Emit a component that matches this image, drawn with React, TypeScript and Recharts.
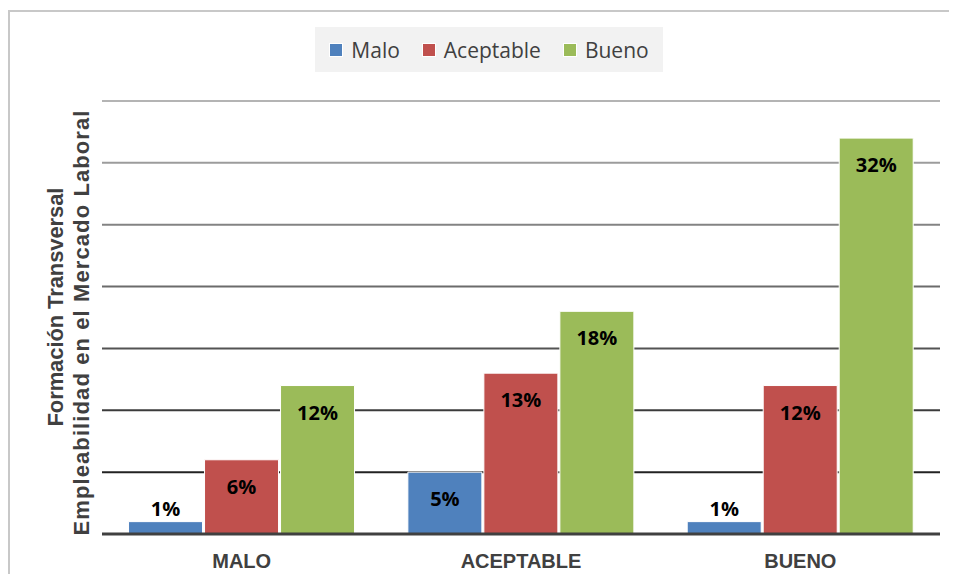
import { BarChart, Bar, XAxis, YAxis, CartesianGrid, LabelList } from 'recharts'

const CATEGORIES = ['MALO', 'ACEPTABLE', 'BUENO']
const SERIES_NAMES = ['Malo', 'Aceptable', 'Bueno']
const MALO_VALUES = [1, 5, 1]
const ACEPTABLE_VALUES = [6, 13, 12]
const BUENO_VALUES = [12, 18, 32]
const Y_TICKS = [0, 5, 10, 15, 20, 25, 30, 35]
const Y_LABEL_LINES = ['Formación Transversal', 'Empleabilidad en el Mercado Laboral']

const COLORS = ['#4f81bd', '#c0504d', '#9bbb59']
const TEXT = '#404040'
const DATA_FONT = '"Open Sans", sans-serif'
const AXIS_FONT = '"Liberation Sans", Arial, sans-serif'

const data = CATEGORIES.map((name, i) => ({
  name,
  Malo: MALO_VALUES[i],
  Aceptable: ACEPTABLE_VALUES[i],
  Bueno: BUENO_VALUES[i],
}))

// gridlines fade from black at the bottom to light gray at the top
function gridColor(y: number, top: number, bottom: number) {
  const t = (bottom - y) / (bottom - top)
  const v = Math.round(10 + t * 170)
  return `rgb(${v},${v},${v})`
}

// eslint-disable-next-line @typescript-eslint/no-explicit-any
function GridLine(props: any) {
  const { x1, x2, y1, index } = props
  if (y1 > 530) return <g key={`gl-${index}`} />
  return (
    <line
      key={`gl-${index}`}
      x1={x1}
      x2={x2}
      y1={y1}
      y2={y1}
      stroke={gridColor(y1, 101, 534)}
      strokeWidth={2}
    />
  )
}

// eslint-disable-next-line @typescript-eslint/no-explicit-any
function BarValue(props: any) {
  const { x, y, width, height, value } = props
  const small = height < 30
  return (
    <text
      x={x + width / 2}
      y={small ? y - 6 : y + 34}
      textAnchor="middle"
      fill="#000"
      style={{ fontFamily: DATA_FONT, fontWeight: 700, fontSize: 20 }}
    >
      {value}%
    </text>
  )
}

export default function App() {
  return (
    <div style={{ position: 'relative', width: 957, height: 582, margin: -8, overflow: 'hidden', background: '#fff' }}>
      {/* outer chart frame */}
      <div
        style={{
          position: 'absolute',
          left: 8,
          top: 10,
          width: 960,
          height: 600,
          borderTop: '2px solid #c8c8c8',
          borderLeft: '2px solid #c8c8c8',
        }}
      />

      {/* Legend */}
      <div
        style={{
          position: 'absolute',
          left: 315,
          top: 27,
          width: 348,
          height: 45,
          background: '#f2f2f2',
          display: 'flex',
          alignItems: 'center',
          justifyContent: 'center',
          gap: 22,
          fontFamily: DATA_FONT,
          fontSize: 21,
          color: TEXT,
        }}
      >
        {SERIES_NAMES.map((s, i) => (
          <div key={s} style={{ display: 'flex', alignItems: 'center', gap: 8 }}>
            <div style={{ width: 12, height: 12, background: COLORS[i], border: '1px solid #fff' }} />
            <span>{s}</span>
          </div>
        ))}
      </div>

      <div style={{ position: 'absolute', left: 0, top: 0 }}>
        <BarChart
          width={957}
          height={582}
          data={data}
          margin={{ top: 101, right: 17, bottom: 18, left: 102 }}
          barCategoryGap="9.5%"
          barGap={2}
        >
          <CartesianGrid vertical={false} horizontal={GridLine} />
          <YAxis hide domain={[0, 35]} ticks={Y_TICKS} />
          <XAxis
            dataKey="name"
            height={30}
            axisLine={{ stroke: TEXT, strokeWidth: 3 }}
            tickLine={false}
            tickMargin={14}
            tick={{ fill: TEXT, fontSize: 20, fontWeight: 700, fontFamily: AXIS_FONT }}
          />
          {SERIES_NAMES.map((s, i) => (
            <Bar key={s} dataKey={s} fill={COLORS[i]} stroke="#fff" strokeWidth={1} isAnimationActive={false}>
              <LabelList dataKey={s} content={BarValue} />
            </Bar>
          ))}
        </BarChart>
      </div>

      {/* Y axis title, two lines */}
      <svg width={957} height={582} style={{ position: 'absolute', left: 0, top: 0, pointerEvents: 'none' }}>
        <text
          transform="translate(63,307) rotate(-90)"
          textAnchor="middle"
          fill={TEXT}
          textLength={239}
          lengthAdjust="spacing"
          style={{ fontFamily: AXIS_FONT, fontWeight: 700, fontSize: 22 }}
        >
          {Y_LABEL_LINES[0]}
        </text>
        <text
          transform="translate(89,323) rotate(-90)"
          textAnchor="middle"
          fill={TEXT}
          textLength={425}
          lengthAdjust="spacing"
          style={{ fontFamily: AXIS_FONT, fontWeight: 700, fontSize: 22 }}
        >
          {Y_LABEL_LINES[1]}
        </text>
      </svg>
    </div>
  )
}
